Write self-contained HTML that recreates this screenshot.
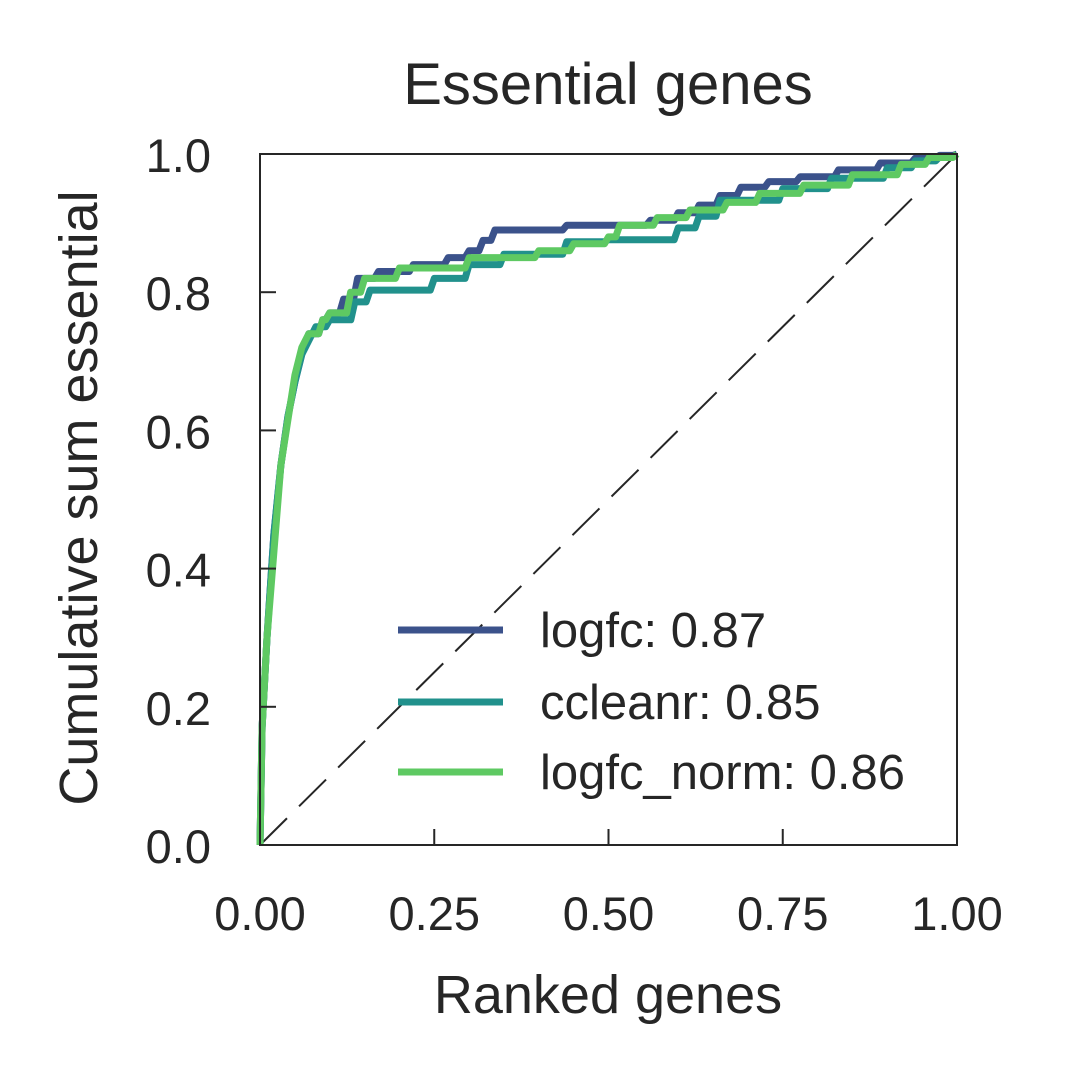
<!DOCTYPE html>
<html><head><meta charset="utf-8"><style>
html,body{margin:0;padding:0;background:#fff;}
svg{display:block;font-family:"Liberation Sans",Arial,sans-serif;}
</style></head><body>
<svg id="chart" width="1065" height="1082" viewBox="0 0 1065 1082" xmlns="http://www.w3.org/2000/svg">
<rect width="1065" height="1082" fill="#fff"/>
<text x="608" y="104" font-size="58" text-anchor="middle" fill="#262626">Essential genes</text>
<g id="plot"></g>
<text x="608" y="1013" font-size="54" text-anchor="middle" fill="#262626">Ranked genes</text>
<text transform="translate(97,498) rotate(-90)" font-size="54" text-anchor="middle" fill="#262626">Cumulative sum essential</text>
</svg>
<script>
const xTicks=[0,0.25,0.5,0.75,1.0];
const xTickLabels=["0.00","0.25","0.50","0.75","1.00"];
const yTicks=[0,0.2,0.4,0.6,0.8,1.0];
const yTickLabels=["0.0","0.2","0.4","0.6","0.8","1.0"];
const seriesNames=["logfc: 0.87","ccleanr: 0.85","logfc_norm: 0.86"];
const logfcX=[0,0.003,0.01,0.02,0.03,0.04,0.05,0.06,0.07,0.09,0.1,0.12,0.14,0.17,0.22,0.27,0.3,0.32,0.337,0.44,0.5,0.56,0.6,0.63,0.66,0.69,0.73,0.775,0.83,0.89,0.94,0.975,1];
const logfcY=[0,0.17,0.3,0.45,0.55,0.62,0.67,0.71,0.74,0.76,0.77,0.79,0.82,0.83,0.84,0.85,0.86,0.875,0.89,0.897,0.897,0.904,0.915,0.926,0.94,0.952,0.96,0.967,0.977,0.987,0.994,0.998,1];
const ccleanrX=[0,0.003,0.01,0.02,0.03,0.04,0.05,0.06,0.07,0.08,0.1,0.136,0.158,0.215,0.25,0.3,0.35,0.44,0.5,0.6,0.63,0.66,0.75,0.82,0.9,0.94,0.975,1];
const ccleanrY=[0,0.17,0.3,0.45,0.55,0.62,0.67,0.71,0.73,0.75,0.76,0.786,0.803,0.803,0.82,0.84,0.855,0.873,0.876,0.893,0.91,0.933,0.95,0.965,0.98,0.99,0.996,1];
const normX=[0,0.003,0.01,0.03,0.05,0.06,0.07,0.09,0.1,0.13,0.15,0.2,0.3,0.4,0.45,0.5,0.516,0.57,0.617,0.67,0.717,0.78,0.85,0.92,0.96,1];
const normY=[0,0.17,0.3,0.55,0.68,0.72,0.74,0.76,0.77,0.8,0.82,0.835,0.85,0.86,0.87,0.88,0.897,0.908,0.919,0.93,0.943,0.955,0.97,0.985,0.995,1];
const colors=["#3b528b","#21918c","#5ec962"];
const L=260,R=957,T=154,B=845;
const sx=v=>L+v*(R-L), sy=v=>B-v*(B-T);
const NS="http://www.w3.org/2000/svg";
const g=document.getElementById('plot');
function mk(tag,attrs){const e=document.createElementNS(NS,tag);for(const k in attrs)e.setAttribute(k,attrs[k]);g.appendChild(e);return e;}
const diag=mk('line',{x1:sx(0),y1:sy(0),x2:sx(1),y2:sy(1),stroke:'#262626','stroke-width':2,'stroke-dasharray':'38,17'});


const sets=[[logfcX,logfcY],[ccleanrX,ccleanrY],[normX,normY]];
const lineNames=['logfc-line','ccleanr-line','logfc-norm-line'];
sets.forEach((s,i)=>{
  let d='M'+sx(s[0][0]).toFixed(1)+','+sy(s[1][0]).toFixed(1);
  for(let j=1;j<s[0].length;j++){
    const x=sx(s[0][j]),y=sy(s[1][j]);
    if(s[0][j]<0.09){d+=' L'+x.toFixed(1)+','+y.toFixed(1);}
    else{const xm=x-4;d+=' L'+xm.toFixed(1)+','+sy(s[1][j-1]).toFixed(1)+' L'+x.toFixed(1)+','+y.toFixed(1);}
  }
  const p=mk('path',{d:d,fill:'none',stroke:colors[i],'stroke-width':7,'stroke-linejoin':'round'});
  
  
});
const frame=mk('rect',{x:L,y:T,width:R-L,height:B-T,fill:'none',stroke:'#262626','stroke-width':2});


xTicks.forEach((v,i)=>{
  const t=mk('line',{x1:sx(v),x2:sx(v),y1:B,y2:B-16,stroke:'#262626','stroke-width':2});
  
  
  const tx=mk('text',{x:sx(v),y:930,'font-size':47,'text-anchor':'middle',fill:'#262626'});
  tx.textContent=xTickLabels[i];
  
  
});
yTicks.forEach((v,i)=>{
  const t=mk('line',{x1:L,x2:L+16,y1:sy(v),y2:sy(v),stroke:'#262626','stroke-width':2});
  
  
  const tx=mk('text',{x:211,y:sy(v)+18,'font-size':47,'text-anchor':'end',fill:'#262626'});
  tx.textContent=yTickLabels[i];
  
  
});
const legY=[630,702,772];
seriesNames.forEach((n,i)=>{
  const ln=mk('line',{x1:398,x2:503,y1:legY[i],y2:legY[i],stroke:colors[i],'stroke-width':7});
  
  
  const tx=mk('text',{x:540,y:legY[i]+17,'font-size':49,fill:'#262626'});
  tx.textContent=n;
  
  
});
</script>
</body></html>
